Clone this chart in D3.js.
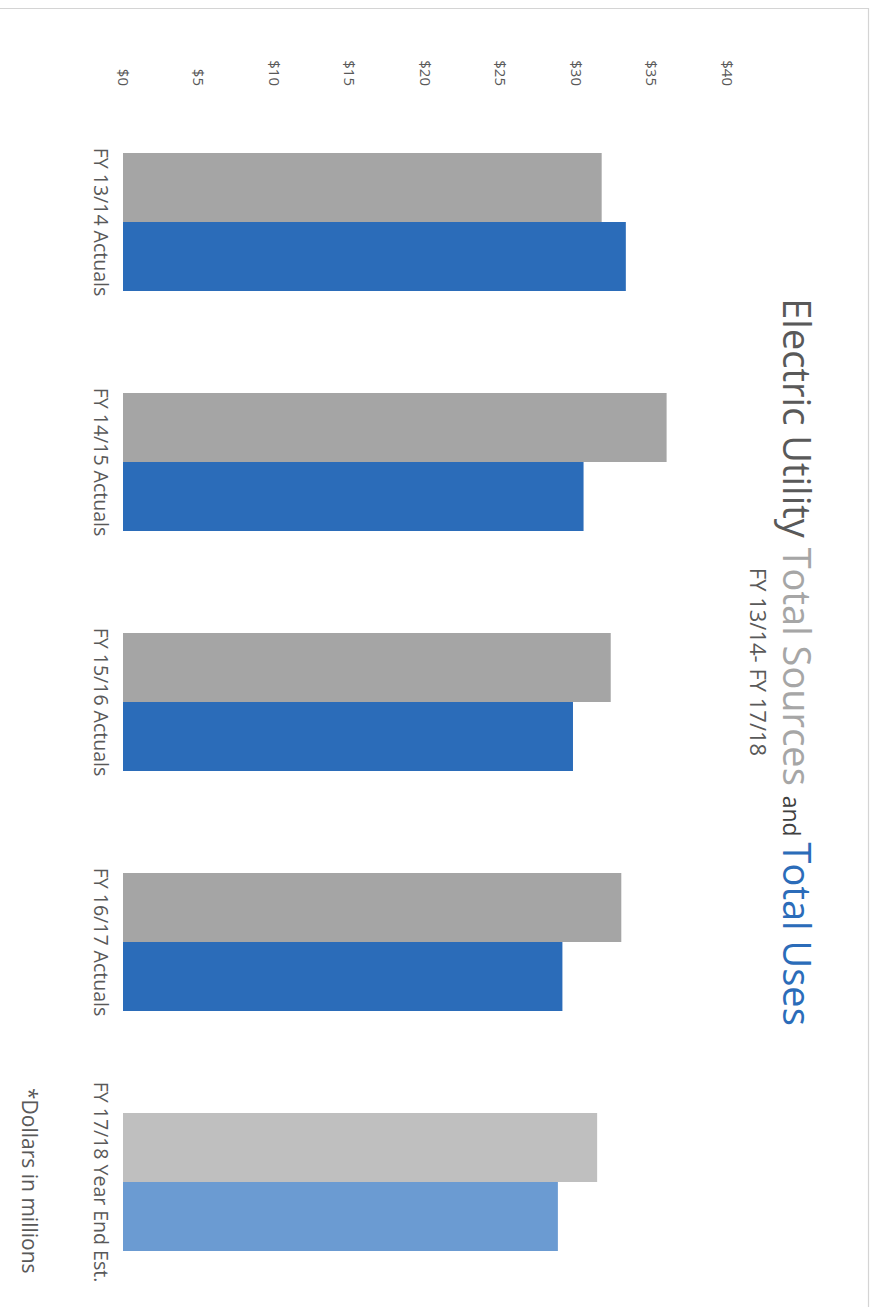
<!DOCTYPE html>
<html>
<head>
<meta charset="utf-8">
<script src="https://cdn.jsdelivr.net/npm/d3@7/dist/d3.min.js"></script>
<style>
  html, body { margin: 0; padding: 0; background: #fff; }
  svg { display: block; }
  text { font-family: "Open Sans", "Noto Sans", sans-serif; }
</style>
</head>
<body>
<div id="chart"></div>
<script>
// Fiscal years shown along the category axis
const categories = ["FY 13/14 Actuals", "FY 14/15 Actuals", "FY 15/16 Actuals", "FY 16/17 Actuals", "FY 17/18 Year End Est."];
// Series (in $ millions)
const seriesNames = ["Total Sources", "Total Uses"];
const totalSources = [31.7, 36.0, 32.3, 33.0, 31.4];
const totalUses = [33.3, 30.5, 29.8, 29.1, 28.8];
// Value axis ticks
const tickValues = [0, 5, 10, 15, 20, 25, 30, 35, 40];
const tickLabels = ["$0", "$5", "$10", "$15", "$20", "$25", "$30", "$35", "$40"];

const screenW = 875, screenH = 1307;
// The chart is laid out as an ordinary column chart in a landscape frame,
// then turned a quarter turn clockwise onto the portrait page.

const svg = d3.select("#chart").append("svg")
  .attr("width", screenW).attr("height", screenH);

svg.append("rect").attr("width", screenW).attr("height", screenH).attr("fill", "#fff");

// page frame (top and right edges)
svg.append("path")
  .attr("d", `M0,8.5H868.5V${screenH}`)
  .attr("fill", "none").attr("stroke", "#d4d4d4").attr("stroke-width", 1.2);

const g = svg.append("g").attr("transform", `translate(${screenW},0) rotate(90)`);

const x = d3.scaleBand().domain(categories).range([102, 1302])
  .paddingInner(0.425).paddingOuter(0.2125);
const xs = d3.scaleBand().domain(seriesNames).range([0, x.bandwidth()]);
const y = d3.scaleLinear().domain([0, 40]).range([752, 148]);

const colors = {
  "Total Sources": ["#a5a5a5", "#bfbfbf"],
  "Total Uses": ["#2b6cb9", "#6b9bd2"]
};

const rows = categories.map((c, i) => ({
  cat: c, est: i === categories.length - 1,
  vals: [{ s: "Total Sources", v: totalSources[i] }, { s: "Total Uses", v: totalUses[i] }]
}));

const grp = g.append("g").selectAll("g").data(rows).join("g")
  .attr("transform", d => `translate(${x(d.cat)},0)`);

grp.selectAll("rect").data(d => d.vals.map(e => ({ ...e, est: d.est }))).join("rect")
  .attr("x", d => xs(d.s))
  .attr("width", xs.bandwidth())
  .attr("y", d => y(d.v))
  .attr("height", d => y(0) - y(d.v))
  .attr("fill", d => colors[d.s][d.est ? 1 : 0]);

// value axis
const yAxis = g.append("g").attr("transform", "translate(86,0)")
  .call(d3.axisLeft(y).tickValues(tickValues).tickSize(0).tickPadding(0)
    .tickFormat((d, i) => tickLabels[i]));
yAxis.select(".domain").remove();
yAxis.selectAll("text").attr("fill", "#595959").style("font-size", "15px");

// category axis
const xAxis = g.append("g").attr("transform", `translate(0,${y(0)})`)
  .call(d3.axisBottom(x).tickSize(0).tickPadding(15));
xAxis.select(".domain").remove();
xAxis.selectAll("text").attr("fill", "#595959").style("font-size", "19.5px");

// title
const title = g.append("text").attr("x", 662).attr("y", 92)
  .attr("text-anchor", "middle").style("font-size", "38px");
title.append("tspan").attr("fill", "#595959").text("Electric Utility ");
title.append("tspan").attr("fill", "#a6a6a6").text("Total Sources ");
title.append("tspan").attr("fill", "#404040").style("font-size", "23px").text("and ");
title.append("tspan").attr("fill", "#2b6cb9").text("Total Uses");

g.append("text").attr("x", 662).attr("y", 125)
  .attr("text-anchor", "middle").attr("fill", "#595959").style("font-size", "22px")
  .text("FY 13/14- FY 17/18");

// footnote
g.append("text").attr("x", 1088).attr("y", 853)
  .attr("fill", "#595959").style("font-size", "21px")
  .text("*Dollars in millions");
</script>
</body>
</html>
